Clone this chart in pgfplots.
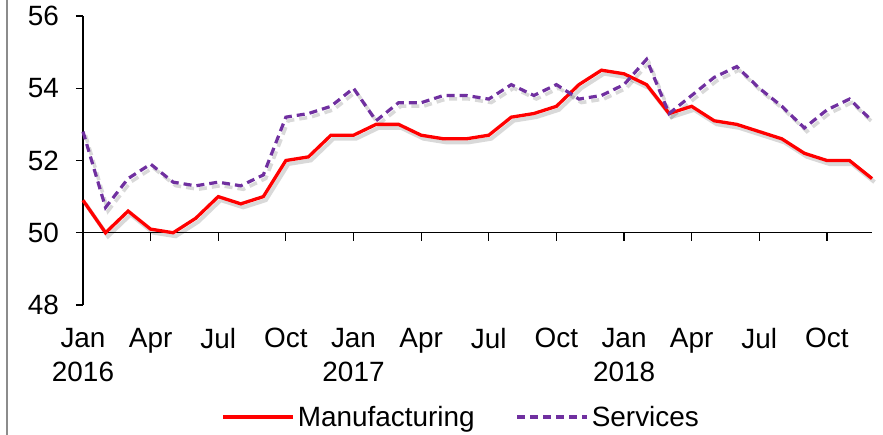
\documentclass[border=0pt]{standalone}
\usepackage{fontspec}
\setmainfont{Liberation Sans}
\usepackage{pgfplots}
\usepackage{pgfplotstable}
\pgfplotsset{compat=1.18}
\definecolor{mred}{HTML}{FF0000}
\definecolor{spurple}{HTML}{7030A0}
\pgfplotstableread{
x m s
0 50.9 52.8
1 50.0 50.7
2 50.6 51.5
3 50.1 51.9
4 50.0 51.4
5 50.4 51.3
6 51.0 51.4
7 50.8 51.3
8 51.0 51.6
9 52.0 53.2
10 52.1 53.3
11 52.7 53.5
12 52.7 54.0
13 53.0 53.1
14 53.0 53.6
15 52.7 53.6
16 52.6 53.8
17 52.6 53.8
18 52.7 53.7
19 53.2 54.1
20 53.3 53.8
21 53.5 54.1
22 54.1 53.7
23 54.5 53.8
24 54.4 54.1
25 54.1 54.8
26 53.3 53.3
27 53.5 53.8
28 53.1 54.3
29 53.0 54.6
30 52.8 54.0
31 52.6 53.5
32 52.2 52.9
33 52.0 53.4
34 52.0 53.7
35 51.5 53.1
}\datatable
\begin{document}
\begin{tikzpicture}
\useasboundingbox (0,0) rectangle (883bp,435bp);
\fill[white] (0,0) rectangle (883bp,435bp);
\draw[black!45, line width=1.5bp] (7bp,0) -- (7bp,435bp);
\begin{axis}[
  at={(83bp,130bp)}, anchor=south west,
  width=789bp, height=289bp, scale only axis,
  xmin=0, xmax=35, ymin=48, ymax=56,
  clip=false,
  separate axis lines,
  axis x line=bottom, axis y line=left,
  y axis line style={-, line width=1.2bp, black},
  x axis line style={draw=none},
  ytick={48,50,...,56},
  xtick={0,3,...,33},
  xticklabels={{Jan\\2016},Apr,Jul,Oct,{Jan\\2017},Apr,Jul,Oct,{Jan\\2018},Apr,Jul,Oct},
  xtick style={draw=none},
  ytick style={line width=1.2bp, black},
  tick align=outside,
  major tick length=7bp,
  /pgf/number format/assume math mode=true,
  tick label style={font=\fontsize{28}{34}\selectfont},
  xticklabel style={align=center, anchor=north, inner sep=0pt, yshift=-16bp},
  yticklabel style={anchor=east, inner sep=0pt, xshift=-17bp},
  legend style={at={(axis description cs:0.48,-0.3875)}, anchor=center, draw=none, fill=none,
    font=\fontsize{28}{34}\selectfont, legend columns=2,
    /tikz/every even column/.append style={column sep=38bp},
    nodes={inner sep=3bp}},
  legend image code/.code={\draw[#1] (0bp,0bp) -- (70bp,0bp);},
]
\draw[line width=1.2bp, black] (axis cs:0,50) -- (axis cs:35,50);
\pgfplotsinvokeforeach{0,3,6,9,12,15,18,21,24,27,30,33}{\draw[line width=1.2bp, black] (axis cs:#1,50) -- (axis cs:#1,49.78);}
\addplot[forget plot, black, opacity=0.15, line width=4bp, shift={(2.5bp,-3.5bp)}] table[x=x,y=m]{\datatable};
\addplot[forget plot, black, opacity=0.15, line width=3.5bp, dash pattern=on 8bp off 5bp, shift={(2.5bp,-3.5bp)}] table[x=x,y=s]{\datatable};
\addplot[mred, line width=3.3bp] table[x=x,y=m]{\datatable};
\addlegendentry{Manufacturing}
\addplot[spurple, line width=3.2bp, dash pattern=on 8bp off 5bp] table[x=x,y=s]{\datatable};
\addlegendentry{Services}
\end{axis}
\end{tikzpicture}
\end{document}
